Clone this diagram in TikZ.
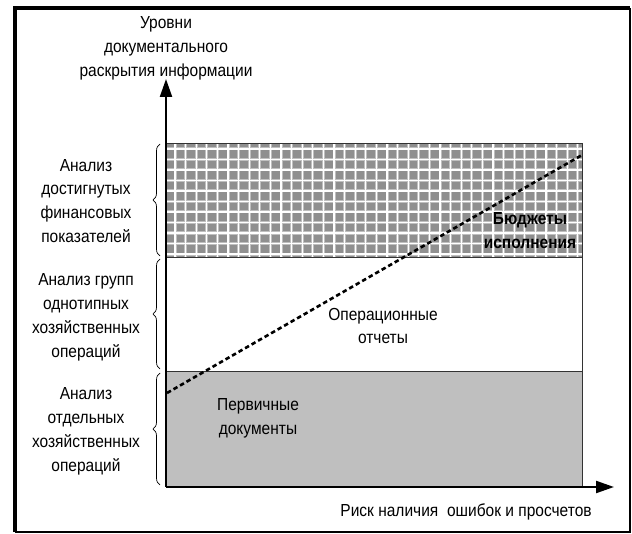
\documentclass[tikz,border=0pt]{standalone}
\usepackage{fontspec}
\setmainfont{Liberation Sans}[FakeStretch=0.89]
\usetikzlibrary{arrows.meta,decorations.pathreplacing}
\definecolor{gridgray}{gray}{0.56}
\definecolor{halo}{gray}{0.75}
\definecolor{primgray}{gray}{0.75}
\tikzset{
  lbl/.style={align=center,font=\fontsize{17.5}{24}\selectfont,inner sep=0pt},
  boxline/.style={draw=black!80,line width=0.8bp},
  axis/.style={line width=2.2bp,-{Triangle[length=18bp,width=12bp]}},
  brc/.style={decorate,decoration={brace,amplitude=7bp},line width=0.7bp},
  trend/.style={line width=2.6bp,dash pattern=on 4.5bp off 3bp}
}
\begin{document}
\begin{tikzpicture}[x=1bp,y=-1bp]
\useasboundingbox (0,0) rectangle (632,534);
% frame
\draw[line width=1.2bp] (630,8) -- (630,532) -- (15,532);
\draw[line width=3.2bp] (15,532) -- (15,8) -- (630,8);
% bands
\fill[gridgray] (166,143) rectangle (582,257);
\begin{scope}
\clip (166,143) rectangle (582,257);
\foreach \i in {0,...,40} {\draw[halo,line width=3bp] (175+\i*10.6,143) -- (175+\i*10.6,257);}
\foreach \j in {0,...,11} {\draw[halo,line width=3bp] (166,149+\j*10.5) -- (582,149+\j*10.5);}
\foreach \i in {0,...,40} {\draw[white,line width=1.1bp] (175+\i*10.6,143) -- (175+\i*10.6,257);}
\foreach \j in {0,...,11} {\draw[white,line width=1.1bp] (166,149+\j*10.5) -- (582,149+\j*10.5);}
\end{scope}
\draw[boxline] (166,143) rectangle (582,257);
\draw[boxline] (166,257) rectangle (582,371);
\fill[primgray] (166,371) rectangle (582,487);
\draw[boxline] (166,371) rectangle (582,487);
% axes
\coordinate (O) at (166,487);
\coordinate (Ytop) at (166,79);
\coordinate (Xend) at (614,487);
\draw[axis] (O) -- (Ytop);
\draw[axis] (O) -- (Xend);
% trend line
\coordinate (T1) at (167,393);
\coordinate (T2) at (582,155);
\draw[trend] (T1) -- (T2);
% braces
\coordinate (b1t) at (160,144); \coordinate (b1b) at (160,256);
\coordinate (b2t) at (160,259); \coordinate (b2b) at (160,369);
\coordinate (b3t) at (160,373); \coordinate (b3b) at (160,485);
\draw[brc] (b1b) -- (b1t);
\draw[brc] (b2b) -- (b2t);
\draw[brc] (b3b) -- (b3t);
% labels
\node[lbl] (ytitle) at (166,48) {Уровни\\документального\\раскрытия информации};
\node[lbl] (l1) at (86,201) {Анализ\\достигнутых\\финансовых\\показателей};
\node[lbl] (l2) at (86,317) {Анализ групп\\однотипных\\хозяйственных\\операций};
\node[lbl] (l3) at (86,431) {Анализ\\отдельных\\хозяйственных\\операций};
\node[lbl] (prim) at (258,418) {Первичные\\документы};
\node[lbl] (oper) at (383,326) {Операционные\\отчеты};
\node[lbl,font=\fontsize{17.5}{24}\selectfont\bfseries] (budg) at (530,231) {Бюджеты\\исполнения};
\node[lbl] (xtitle) at (466,512) {Риск наличия\ \ ошибок и просчетов};
\end{tikzpicture}
\end{document}
